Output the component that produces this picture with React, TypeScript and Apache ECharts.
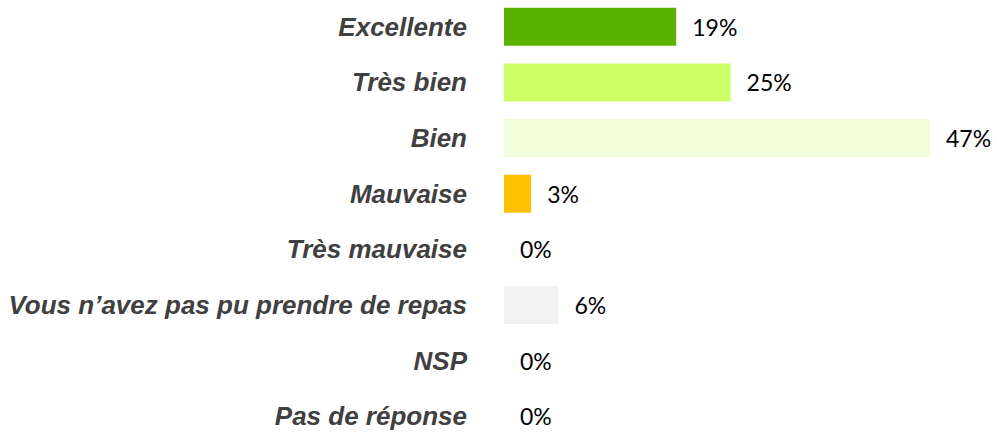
import React, { useEffect, useRef } from "react";
import * as echarts from "echarts";

const categories = [
  "Excellente",
  "Très bien",
  "Bien",
  "Mauvaise",
  "Très mauvaise",
  "Vous n’avez pas pu prendre de repas",
  "NSP",
  "Pas de réponse",
];
const values = [19, 25, 47, 3, 0, 6, 0, 0];
const colors = ["#5bb300", "#ccff66", "#f2fddb", "#ffc000", "#d9d9d9", "#f2f2f2", "#d9d9d9", "#d9d9d9"];

export default function App() {
  const ref = useRef<HTMLDivElement>(null);
  useEffect(() => {
    if (!ref.current) return;
    const chart = echarts.init(ref.current, null, { renderer: "svg" });
    chart.setOption({
      animation: false,
      grid: {
        left: 504,
        top: -1,
        right: 67,
        bottom: -9,
        containLabel: false,
        outerBoundsMode: "none",
      },
      xAxis: { type: "value", min: 0, max: 47, show: false },
      yAxis: {
        type: "category",
        data: categories,
        inverse: true,
        axisLine: { show: false },
        axisTick: { show: false },
        splitLine: { show: false },
        axisLabel: {
          margin: 37,
          color: "#404040",
          fontFamily: "'Liberation Sans', Arial, sans-serif",
          fontWeight: "bold",
          fontStyle: "italic",
          fontSize: 26,
        },
      },
      series: [
        {
          type: "bar",
          barWidth: 38,
          data: values.map((v, i) => ({ value: v, itemStyle: { color: colors[i] } })),
          label: {
            show: true,
            position: "right",
            distance: 16,
            formatter: "{c}%",
            color: "#000",
            fontFamily: "Lato, 'Noto Sans', sans-serif",
            fontSize: 23,
          },
        },
      ],
    });
    return () => chart.dispose();
  }, []);
  return (
    <div
      ref={ref}
      style={{ position: "fixed", left: 0, top: 0, width: 997, height: 435, background: "#fff" }}
    />
  );
}
